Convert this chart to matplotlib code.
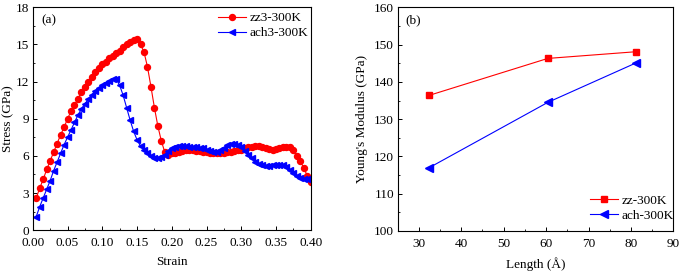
import numpy as np
import matplotlib.pyplot as plt
from matplotlib.ticker import AutoMinorLocator

plt.rcParams['font.family'] = ['Liberation Serif', 'DejaVu Serif']
plt.rcParams['font.size'] = 9.5

# (a) stress-strain
strain = [round(0.005 * i, 3) for i in range(1, 81)]
zz3 = [2.6, 3.4, 4.1, 4.9, 5.6, 6.3, 7.0, 7.7, 8.3, 9.0,
       9.6, 10.1, 10.6, 11.2, 11.6, 12.0, 12.4, 12.8, 13.1, 13.4,
       13.6, 13.9, 14.1, 14.3, 14.5, 14.8, 15.0, 15.2, 15.4, 15.45,
       15.0, 14.4, 13.2, 11.6, 9.9, 8.4, 7.2, 6.3, 6.1, 6.2,
       6.25, 6.3, 6.4, 6.45, 6.5, 6.45, 6.4, 6.4, 6.35, 6.3,
       6.25, 6.2, 6.2, 6.2, 6.25, 6.3, 6.35, 6.4, 6.45, 6.5,
       6.6, 6.7, 6.75, 6.8, 6.8, 6.75, 6.65, 6.55, 6.5, 6.55,
       6.6, 6.7, 6.75, 6.7, 6.45, 6.0, 5.6, 5.0, 4.4, 3.9]
ach3 = [1.1, 1.9, 2.6, 3.3, 4.0, 4.8, 5.5, 6.2, 6.9, 7.5,
        8.1, 8.7, 9.3, 9.8, 10.2, 10.6, 10.95, 11.25, 11.5, 11.7,
        11.9, 12.05, 12.2, 12.2, 11.7, 10.9, 9.9, 8.9, 8.0, 7.3,
        6.8, 6.5, 6.2, 6.0, 5.85, 5.8, 5.9, 6.1, 6.4, 6.6,
        6.7, 6.8, 6.8, 6.8, 6.75, 6.75, 6.7, 6.65, 6.6, 6.5,
        6.4, 6.35, 6.35, 6.45, 6.65, 6.85, 6.95, 7.0, 6.9, 6.7,
        6.4, 6.1, 5.8, 5.5, 5.35, 5.25, 5.2, 5.2, 5.25, 5.25,
        5.3, 5.25, 5.1, 4.85, 4.6, 4.35, 4.2, 4.1, 4.1, 4.1]

# (b) Young's modulus vs length
length = [32.5, 60.4, 81.2]
zz_mod = [136.4, 146.3, 148.1]
ach_mod = [117.0, 134.5, 145.1]

fig = plt.figure(figsize=(6.83, 2.73), dpi=100)
ax1 = fig.add_axes([0.048, 0.157, 0.407, 0.816])
ax2 = fig.add_axes([0.582, 0.154, 0.404, 0.819])

ax1.plot(strain, zz3, color='red', marker='o', markersize=4.3, linewidth=0.8, label='zz3-300K')
ax1.plot(strain, ach3, color='blue', marker='<', markersize=5, linewidth=0.8, label='ach3-300K')
ax1.set_xlim(0, 0.4)
ax1.set_ylim(0, 18)
ax1.set_xticks(np.arange(0, 0.401, 0.05))
ax1.set_yticks(np.arange(0, 18.1, 3))
ax1.set_xticklabels(['%.2f' % v for v in np.arange(0, 0.401, 0.05)])
ax1.set_xlabel('Strain', labelpad=5)
ax1.set_ylabel('Stress (GPa)', labelpad=1)
ax1.text(0.03, 0.97, '(a)', transform=ax1.transAxes, va='top', ha='left')
ax1.legend(loc='upper right', bbox_to_anchor=(1.0, 0.99), frameon=False,
           handlelength=2.1, borderaxespad=0, borderpad=0.2,
           handletextpad=0.25, labelspacing=0.2)

ax2.plot(length, zz_mod, color='red', marker='s', markersize=4, linewidth=0.8, label='zz-300K')
ax2.plot(length, ach_mod, color='blue', marker='<', markersize=5.5, linewidth=0.8, label='ach-300K')
ax2.set_xlim(25, 90)
ax2.set_ylim(100, 160)
ax2.set_xticks(range(30, 91, 10))
ax2.set_yticks(range(100, 161, 10))
ax2.set_xlabel('Length (\u00c5)', labelpad=5)
ax2.set_ylabel("Young's Modulus (GPa)", labelpad=4)
ax2.text(0.03, 0.97, '(b)', transform=ax2.transAxes, va='top', ha='left')
ax2.legend(loc='lower right', bbox_to_anchor=(1.01, 0.03), frameon=False,
           handlelength=2.1, borderaxespad=0, borderpad=0.2,
           handletextpad=0.25, labelspacing=0.2)

for ax in (ax1, ax2):
    ax.xaxis.set_minor_locator(AutoMinorLocator(2))
    ax.yaxis.set_minor_locator(AutoMinorLocator(2))
    ax.tick_params(which='both', direction='in', top=False, right=False)
    ax.tick_params(which='major', length=3, width=0.7)
    ax.tick_params(which='minor', length=1.5, width=0.6)
    ax.tick_params(axis='x', pad=5)
    ax.tick_params(axis='y', pad=2.5)
    for s in ax.spines.values():
        s.set_linewidth(0.8)

fig.savefig('out.png', dpi=100)
